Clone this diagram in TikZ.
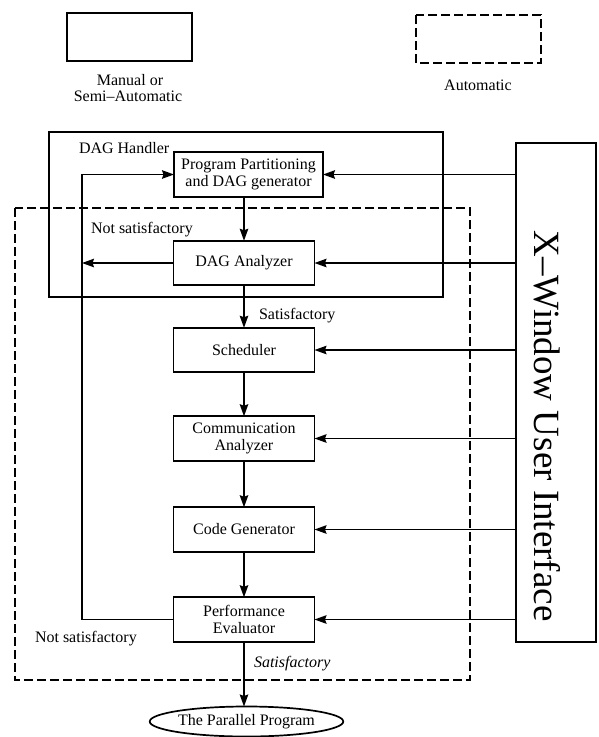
\documentclass[tikz,border=0pt]{standalone}
\usepackage{fontspec}
\setmainfont{Liberation Serif}
\usetikzlibrary{arrows.meta,shapes.geometric}
\begin{document}
\begin{tikzpicture}[x=1pt,y=-1pt,
  font=\fontsize{16}{16.5}\selectfont,
  every node/.style={inner sep=0pt, outer sep=0pt},
  stage/.style={draw, line width=1.7pt, minimum width=141pt, minimum height=44.5pt, align=center},
  frame/.style={draw, line width=1.8pt},
  autoframe/.style={draw, line width=1.9pt, dash pattern=on 9pt off 4pt},
  arr/.style={line width=1.6pt, -{Stealth[length=12pt,width=8.5pt,inset=1.5pt]}},
  lbl/.style={anchor=base west},
  leg/.style={anchor=base},
]
\useasboundingbox (0,0) rectangle (598,737);

% legend
\draw[frame] (67,13) rectangle (192,61);
\node[leg] (legm1) at (130,85) {Manual or};
\node[leg] (legm2) at (128,101) {Semi\textendash Automatic};
\draw[autoframe] (416,15) rectangle (541,63);
\node[leg] (lega) at (478,90) {Automatic};

% enclosing frames
\draw[frame] (49,132) rectangle (443,297);
\node[lbl] (dhl) at (79,153) {DAG Handler};
\draw[autoframe] (15,208) rectangle (470,680);

% processing stages
\node[stage, minimum width=149pt] (pp) at (248.5,174.5) {Program Partitioning\\and DAG generator};
\node[stage] (dag) at (244,263) {DAG Analyzer};
\node[stage] (sch) at (244,350) {Scheduler};
\node[stage] (comm) at (244,438.5) {Communication\\Analyzer};
\node[stage] (cg) at (244,529.5) {Code Generator};
\node[stage] (perf) at (244,619.5) {Performance\\Evaluator};
\node[draw, ellipse, line width=1.7pt, minimum width=173pt, minimum height=30pt] (prog) at (246.5,721.5) {The Parallel Program};

% user interface
\node[draw, line width=1.8pt, minimum width=80pt, minimum height=499pt] (xw) at (556,392.5) {};
\node[rotate=-90, font=\fontsize{37}{40}\selectfont] (xwt) at (547,426) {X\textendash Window User Interface};

% main flow
\draw[arr] (dag.north |- pp.south) -- (dag.north);
\draw[arr] (dag.south) -- (sch.north);
\node[lbl] (sat1) at (259,319) {Satisfactory};
\draw[arr] (sch.south) -- (comm.north);
\draw[arr] (comm.south) -- (cg.north);
\draw[arr] (cg.south) -- (perf.north);
\draw[arr] (perf.south) -- (perf.south |- prog.north);
\node[lbl, font=\fontsize{16}{16.5}\selectfont\itshape] (sat2) at (254,667) {Satisfactory};

% feedback paths
\coordinate (fb) at (82,174.5);
\draw[arr] (perf.west) -| (fb) -- (pp.west);
\draw[arr] (dag.west) -- (dag.west -| fb);
\node[lbl] (ns1) at (91,233) {Not satisfactory};
\node[lbl] (ns2) at (35,642) {Not satisfactory};

% interface inputs
\foreach \s in {pp,dag,sch,comm,cg,perf}
  \draw[arr] (xw.west |- \s.east) -- (\s.east);
\end{tikzpicture}
\end{document}
